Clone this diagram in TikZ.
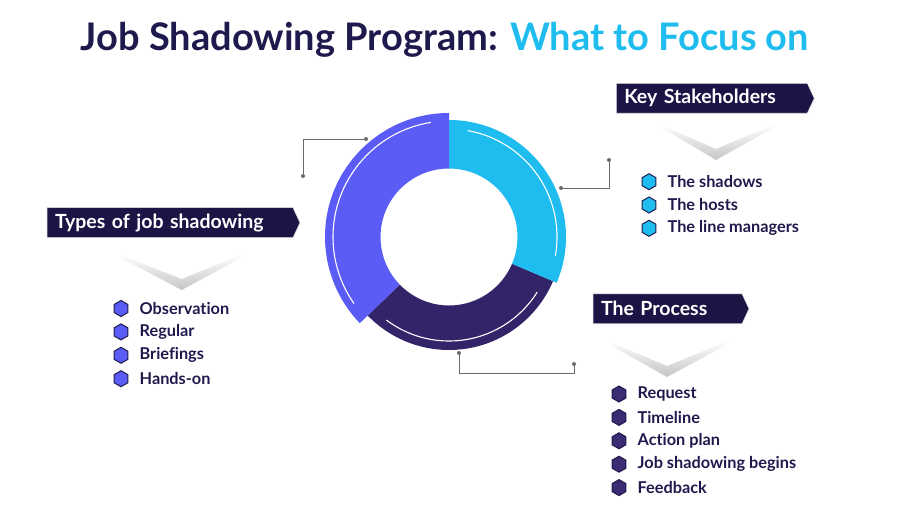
\documentclass[tikz,border=0pt]{standalone}
\usepackage{fontspec}
\setmainfont{Lato}[Ligatures=NoCommon]
\usetikzlibrary{positioning, shapes.geometric, shapes.symbols}

\definecolor{navy}{HTML}{1F1A4D}
\definecolor{bannerc}{HTML}{1B1545}
\definecolor{cyanc}{HTML}{1FBCEF}
\definecolor{lpurple}{HTML}{5B5CF6}
\definecolor{dpurple}{HTML}{33246A}
\definecolor{hexdark}{HTML}{3A2B72}
\definecolor{connc}{HTML}{6B6B6B}

\begin{document}
\begin{tikzpicture}[x=1pt, y=1pt, node distance=10pt,
      banner/.style = {signal, signal to=east, signal from=nowhere,
                       signal pointer angle=130, fill=bannerc, draw=gray!25,
                       line width=0.6pt, text=white, anchor=west, align=left,
                       font=\bfseries\fontsize{19.5}{22}\selectfont,
                       inner xsep=8pt, inner ysep=0pt, minimum height=30pt},
      hexbullet/.style = {regular polygon, regular polygon sides=6,
                          shape border rotate=30, minimum size=16pt,
                          inner sep=0pt, draw=navy, line width=1pt, fill=#1},
      item/.style = {text=navy, inner xsep=2pt, inner ysep=1pt,
                     font=\bfseries\fontsize{16.3}{19}\selectfont},
      dot/.style = {circle, fill=connc, inner sep=0pt, minimum size=4pt},
      conn/.style = {draw=connc, line width=0.8pt} ]

\useasboundingbox (0,0) rectangle (915,509);

% title
\node (title) at (445,469)
  {\fontsize{38}{44}\selectfont\bfseries
   \textcolor{navy}{Job Shadowing Program:} \textcolor{cyanc}{What to Focus on}};

% donut
\begin{scope}[shift={(449,272)}]
  \fill[dpurple] (224:113) arc[start angle=224, end angle=337, radius=113]
        -- (337:68.5) arc[start angle=337, end angle=224, radius=68.5] -- cycle;
  \fill[cyanc] (-23:117) arc[start angle=-23, end angle=90, radius=117]
        -- (90:68.5) arc[start angle=90, end angle=-23, radius=68.5] -- cycle;
  \fill[lpurple] (90:124) arc[start angle=90, end angle=224, radius=124]
        -- (224:68.5) arc[start angle=224, end angle=90, radius=68.5] -- cycle;
  \draw[white, line width=1.1pt] (99:116) arc[start angle=99, end angle=215, radius=116];
  \draw[white, line width=1.1pt] (80:108) arc[start angle=80, end angle=-10, radius=108];
  \draw[white, line width=1.1pt] (233:104) arc[start angle=233, end angle=328, radius=104];
\end{scope}

% connectors
\node[dot] (d1a) at (366,370) {};
\node[dot] (d1b) at (303,333) {};
\node[dot] (d2a) at (561,321) {};
\node[dot] (d2b) at (609,349) {};
\node[dot] (d3a) at (459,156) {};
\node[dot] (d3b) at (574,145) {};
\draw[conn] (d1a) -| (d1b);
\draw[conn] (d2a) -| (d2b);
\draw[conn] (d3a) -- ++(0,-20) -| (d3b);

% banners
\node[banner, text width=230pt] (types) at (46.7,286.3) {Types of job shadowing};
\node[banner, text width=175pt] (keys)  at (616,410.7) {Key Stakeholders};
\node[banner, text width=133pt] (proc)  at (592.7,200.2) {The Process};

% chevron shadows
\foreach \lx/\ly/\ax/\ay/\rx/\ry in {121.7/250.7/181.7/219/243.3/252.3,
                                    662/381/716/349/775/382,
                                    610/164/667/132/730/166}
  \shade[top color=white, bottom color=gray!45]
      (\lx,\ly) -- (\ax,\ay) -- (\rx,\ry) -- (\rx,\ry+3)
      -- (\ax,\ay+11) -- (\lx,\ly+3) -- cycle;

% lists
\foreach \t [count=\i] in {Observation, Regular, Briefings, Hands-on} {
  \node[hexbullet=lpurple] (tb\i) at (121,{200.5-(\i-1)*23.4}) {};
  \node[item, right=9pt of tb\i] (tt\i) {\t};
}
\foreach \t [count=\i] in {The shadows, The hosts, The line managers} {
  \node[hexbullet=cyanc] (kb\i) at (649,{327.3-(\i-1)*23.3}) {};
  \node[item, right=9pt of kb\i] (kt\i) {\t};
}
\foreach \t [count=\i] in {Request, Timeline, Action plan, Job shadowing begins, Feedback} {
  \node[hexbullet=hexdark] (pb\i) at (619,{115-(\i-1)*23.4}) {};
  \node[item, right=9pt of pb\i] (pt\i) {\t};
}
\end{tikzpicture}
\end{document}
